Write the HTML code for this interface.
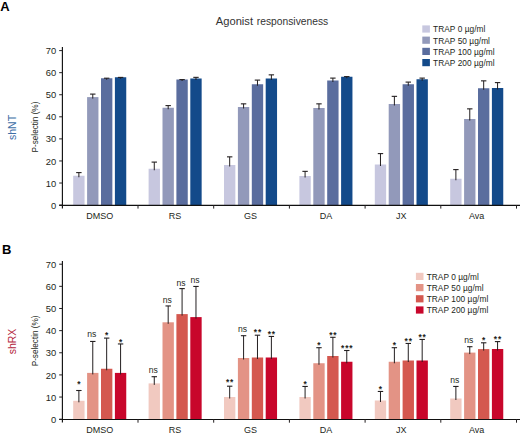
<!DOCTYPE html>
<html><head><meta charset="utf-8"><style>
html,body{margin:0;padding:0;background:#fff;}
svg{display:block;font-family:"Liberation Sans", sans-serif;}
</style></head><body>
<svg width="520" height="435" viewBox="0 0 520 435">
<rect width="520" height="435" fill="#fff"/>
<text y="24.6" font-size="11" fill="#333"><tspan x="215.8" textLength="37.2" lengthAdjust="spacingAndGlyphs">Agonist</tspan><tspan x="256.8" textLength="71.4" lengthAdjust="spacingAndGlyphs">responsiveness</tspan></text>
<rect x="73.20" y="175.75" width="11.35" height="29.35" fill="#c7c7df"/>
<line x1="78.88" y1="172.60" x2="78.88" y2="177.25" stroke="#231f20" stroke-width="1"/>
<line x1="76.17" y1="172.60" x2="81.58" y2="172.60" stroke="#231f20" stroke-width="1.1"/>
<rect x="87.10" y="97.10" width="11.35" height="108.00" fill="#9299ba"/>
<line x1="92.78" y1="94.10" x2="92.78" y2="98.60" stroke="#231f20" stroke-width="1"/>
<line x1="90.08" y1="94.10" x2="95.48" y2="94.10" stroke="#231f20" stroke-width="1.1"/>
<rect x="101.00" y="78.25" width="11.35" height="126.85" fill="#5a6d9e"/>
<line x1="106.67" y1="78.20" x2="106.67" y2="79.75" stroke="#231f20" stroke-width="1"/>
<line x1="103.97" y1="78.20" x2="109.38" y2="78.20" stroke="#231f20" stroke-width="1.1"/>
<rect x="114.90" y="77.25" width="11.35" height="127.85" fill="#134a8a"/>
<line x1="120.58" y1="77.40" x2="120.58" y2="78.75" stroke="#231f20" stroke-width="1"/>
<line x1="117.88" y1="77.40" x2="123.28" y2="77.40" stroke="#231f20" stroke-width="1.1"/>
<rect x="148.60" y="168.75" width="11.35" height="36.35" fill="#c7c7df"/>
<line x1="154.28" y1="162.10" x2="154.28" y2="170.25" stroke="#231f20" stroke-width="1"/>
<line x1="151.58" y1="162.10" x2="156.98" y2="162.10" stroke="#231f20" stroke-width="1.1"/>
<rect x="162.50" y="107.75" width="11.35" height="97.35" fill="#9299ba"/>
<line x1="168.18" y1="105.60" x2="168.18" y2="109.25" stroke="#231f20" stroke-width="1"/>
<line x1="165.48" y1="105.60" x2="170.88" y2="105.60" stroke="#231f20" stroke-width="1.1"/>
<rect x="176.40" y="79.50" width="11.35" height="125.60" fill="#5a6d9e"/>
<line x1="182.08" y1="79.60" x2="182.08" y2="81.00" stroke="#231f20" stroke-width="1"/>
<line x1="179.38" y1="79.60" x2="184.78" y2="79.60" stroke="#231f20" stroke-width="1.1"/>
<rect x="190.30" y="78.50" width="11.35" height="126.60" fill="#134a8a"/>
<line x1="195.98" y1="77.35" x2="195.98" y2="80.00" stroke="#231f20" stroke-width="1"/>
<line x1="193.28" y1="77.35" x2="198.68" y2="77.35" stroke="#231f20" stroke-width="1.1"/>
<rect x="224.00" y="165.00" width="11.35" height="40.10" fill="#c7c7df"/>
<line x1="229.68" y1="156.85" x2="229.68" y2="166.50" stroke="#231f20" stroke-width="1"/>
<line x1="226.98" y1="156.85" x2="232.38" y2="156.85" stroke="#231f20" stroke-width="1.1"/>
<rect x="237.90" y="107.00" width="11.35" height="98.10" fill="#9299ba"/>
<line x1="243.58" y1="103.85" x2="243.58" y2="108.50" stroke="#231f20" stroke-width="1"/>
<line x1="240.88" y1="103.85" x2="246.28" y2="103.85" stroke="#231f20" stroke-width="1.1"/>
<rect x="251.80" y="84.25" width="11.35" height="120.85" fill="#5a6d9e"/>
<line x1="257.48" y1="80.10" x2="257.48" y2="85.75" stroke="#231f20" stroke-width="1"/>
<line x1="254.78" y1="80.10" x2="260.18" y2="80.10" stroke="#231f20" stroke-width="1.1"/>
<rect x="265.70" y="78.50" width="11.35" height="126.60" fill="#134a8a"/>
<line x1="271.38" y1="74.85" x2="271.38" y2="80.00" stroke="#231f20" stroke-width="1"/>
<line x1="268.68" y1="74.85" x2="274.07" y2="74.85" stroke="#231f20" stroke-width="1.1"/>
<rect x="299.40" y="176.00" width="11.35" height="29.10" fill="#c7c7df"/>
<line x1="305.08" y1="171.35" x2="305.08" y2="177.50" stroke="#231f20" stroke-width="1"/>
<line x1="302.38" y1="171.35" x2="307.78" y2="171.35" stroke="#231f20" stroke-width="1.1"/>
<rect x="313.30" y="108.00" width="11.35" height="97.10" fill="#9299ba"/>
<line x1="318.98" y1="103.85" x2="318.98" y2="109.50" stroke="#231f20" stroke-width="1"/>
<line x1="316.28" y1="103.85" x2="321.68" y2="103.85" stroke="#231f20" stroke-width="1.1"/>
<rect x="327.20" y="80.50" width="11.35" height="124.60" fill="#5a6d9e"/>
<line x1="332.88" y1="78.10" x2="332.88" y2="82.00" stroke="#231f20" stroke-width="1"/>
<line x1="330.18" y1="78.10" x2="335.58" y2="78.10" stroke="#231f20" stroke-width="1.1"/>
<rect x="341.10" y="76.75" width="11.35" height="128.35" fill="#134a8a"/>
<line x1="346.78" y1="76.60" x2="346.78" y2="78.25" stroke="#231f20" stroke-width="1"/>
<line x1="344.08" y1="76.60" x2="349.48" y2="76.60" stroke="#231f20" stroke-width="1.1"/>
<rect x="374.80" y="164.50" width="11.35" height="40.60" fill="#c7c7df"/>
<line x1="380.48" y1="153.60" x2="380.48" y2="166.00" stroke="#231f20" stroke-width="1"/>
<line x1="377.78" y1="153.60" x2="383.18" y2="153.60" stroke="#231f20" stroke-width="1.1"/>
<rect x="388.70" y="104.00" width="11.35" height="101.10" fill="#9299ba"/>
<line x1="394.38" y1="96.35" x2="394.38" y2="105.50" stroke="#231f20" stroke-width="1"/>
<line x1="391.68" y1="96.35" x2="397.07" y2="96.35" stroke="#231f20" stroke-width="1.1"/>
<rect x="402.60" y="84.25" width="11.35" height="120.85" fill="#5a6d9e"/>
<line x1="408.28" y1="82.10" x2="408.28" y2="85.75" stroke="#231f20" stroke-width="1"/>
<line x1="405.58" y1="82.10" x2="410.98" y2="82.10" stroke="#231f20" stroke-width="1.1"/>
<rect x="416.50" y="79.25" width="11.35" height="125.85" fill="#134a8a"/>
<line x1="422.18" y1="78.10" x2="422.18" y2="80.75" stroke="#231f20" stroke-width="1"/>
<line x1="419.48" y1="78.10" x2="424.88" y2="78.10" stroke="#231f20" stroke-width="1.1"/>
<rect x="450.20" y="178.75" width="11.35" height="26.35" fill="#c7c7df"/>
<line x1="455.88" y1="169.60" x2="455.88" y2="180.25" stroke="#231f20" stroke-width="1"/>
<line x1="453.18" y1="169.60" x2="458.57" y2="169.60" stroke="#231f20" stroke-width="1.1"/>
<rect x="464.10" y="119.00" width="11.35" height="86.10" fill="#9299ba"/>
<line x1="469.77" y1="108.85" x2="469.77" y2="120.50" stroke="#231f20" stroke-width="1"/>
<line x1="467.07" y1="108.85" x2="472.47" y2="108.85" stroke="#231f20" stroke-width="1.1"/>
<rect x="478.00" y="88.25" width="11.35" height="116.85" fill="#5a6d9e"/>
<line x1="483.68" y1="80.85" x2="483.68" y2="89.75" stroke="#231f20" stroke-width="1"/>
<line x1="480.98" y1="80.85" x2="486.38" y2="80.85" stroke="#231f20" stroke-width="1.1"/>
<rect x="491.90" y="88.00" width="11.35" height="117.10" fill="#134a8a"/>
<line x1="497.57" y1="82.60" x2="497.57" y2="89.50" stroke="#231f20" stroke-width="1"/>
<line x1="494.88" y1="82.60" x2="500.27" y2="82.60" stroke="#231f20" stroke-width="1.1"/>
<line x1="62.4" y1="47" x2="62.4" y2="208.40" stroke="#111" stroke-width="1.15"/>
<line x1="59.2" y1="205.40" x2="520" y2="205.40" stroke="#111" stroke-width="1.15"/>
<line x1="59.2" y1="205.10" x2="62.3" y2="205.10" stroke="#231f20" stroke-width="1"/>
<text x="56.3" y="208.70" text-anchor="end" font-size="9.4" fill="#231f20">0</text>
<line x1="59.2" y1="183.03" x2="62.3" y2="183.03" stroke="#231f20" stroke-width="1"/>
<text x="56.3" y="186.63" text-anchor="end" font-size="9.4" fill="#231f20">10</text>
<line x1="59.2" y1="160.96" x2="62.3" y2="160.96" stroke="#231f20" stroke-width="1"/>
<text x="56.3" y="164.56" text-anchor="end" font-size="9.4" fill="#231f20">20</text>
<line x1="59.2" y1="138.89" x2="62.3" y2="138.89" stroke="#231f20" stroke-width="1"/>
<text x="56.3" y="142.49" text-anchor="end" font-size="9.4" fill="#231f20">30</text>
<line x1="59.2" y1="116.81" x2="62.3" y2="116.81" stroke="#231f20" stroke-width="1"/>
<text x="56.3" y="120.41" text-anchor="end" font-size="9.4" fill="#231f20">40</text>
<line x1="59.2" y1="94.74" x2="62.3" y2="94.74" stroke="#231f20" stroke-width="1"/>
<text x="56.3" y="98.34" text-anchor="end" font-size="9.4" fill="#231f20">50</text>
<line x1="59.2" y1="72.67" x2="62.3" y2="72.67" stroke="#231f20" stroke-width="1"/>
<text x="56.3" y="76.27" text-anchor="end" font-size="9.4" fill="#231f20">60</text>
<line x1="59.2" y1="50.60" x2="62.3" y2="50.60" stroke="#231f20" stroke-width="1"/>
<text x="56.3" y="54.20" text-anchor="end" font-size="9.4" fill="#231f20">70</text>
<line x1="138.00" y1="205.10" x2="138.00" y2="208.60" stroke="#231f20" stroke-width="1"/>
<line x1="213.70" y1="205.10" x2="213.70" y2="208.60" stroke="#231f20" stroke-width="1"/>
<line x1="289.40" y1="205.10" x2="289.40" y2="208.60" stroke="#231f20" stroke-width="1"/>
<line x1="365.10" y1="205.10" x2="365.10" y2="208.60" stroke="#231f20" stroke-width="1"/>
<line x1="440.80" y1="205.10" x2="440.80" y2="208.60" stroke="#231f20" stroke-width="1"/>
<line x1="516.50" y1="205.10" x2="516.50" y2="208.60" stroke="#231f20" stroke-width="1"/>
<text x="99.73" y="218.60" text-anchor="middle" font-size="9" fill="#231f20">DMSO</text>
<text x="175.13" y="218.60" text-anchor="middle" font-size="9" fill="#231f20">RS</text>
<text x="250.53" y="218.60" text-anchor="middle" font-size="9" fill="#231f20">GS</text>
<text x="325.93" y="218.60" text-anchor="middle" font-size="9" fill="#231f20">DA</text>
<text x="401.32" y="218.60" text-anchor="middle" font-size="9" fill="#231f20">JX</text>
<text x="476.72" y="218.60" text-anchor="middle" font-size="9" fill="#231f20">Ava</text>
<text transform="translate(38.4,127.05) rotate(-90)" x="-25.4" font-size="9.6" textLength="50.8" lengthAdjust="spacingAndGlyphs" fill="#231f20">P-selectin (%)</text>
<text transform="translate(15.8,127.50) rotate(-90)" text-anchor="middle" font-size="10.5" fill="#3d6ea6">shNT</text>
<rect x="422.3" y="25.40" width="7.6" height="7.2" fill="#c7c7df"/>
<text x="433.10" y="32.30" font-size="8.3" letter-spacing="0.05" fill="#231f20">TRAP 0 µg/ml</text>
<rect x="422.3" y="36.60" width="7.6" height="7.2" fill="#9299ba"/>
<text x="433.10" y="43.50" font-size="8.3" letter-spacing="0.05" fill="#231f20">TRAP 50 µg/ml</text>
<rect x="422.3" y="47.80" width="7.6" height="7.2" fill="#5a6d9e"/>
<text x="433.10" y="54.70" font-size="8.3" letter-spacing="0.05" fill="#231f20">TRAP 100 µg/ml</text>
<rect x="422.3" y="59.00" width="7.6" height="7.2" fill="#134a8a"/>
<text x="433.10" y="65.90" font-size="8.3" letter-spacing="0.05" fill="#231f20">TRAP 200 µg/ml</text>
<text x="0.2" y="10.9" font-size="13" font-weight="bold" fill="#000">A</text>
<rect x="73.20" y="400.80" width="11.35" height="18.40" fill="#f1c9c0"/>
<line x1="78.88" y1="390.50" x2="78.88" y2="402.30" stroke="#231f20" stroke-width="1"/>
<line x1="76.17" y1="390.50" x2="81.58" y2="390.50" stroke="#231f20" stroke-width="1.1"/>
<text x="79.33" y="387.20" text-anchor="middle" font-size="8.4" font-weight="bold" letter-spacing="0.9" fill="#231f20">*</text>
<rect x="87.10" y="372.90" width="11.35" height="46.30" fill="#e39385"/>
<line x1="92.78" y1="341.45" x2="92.78" y2="374.40" stroke="#231f20" stroke-width="1"/>
<line x1="90.08" y1="341.45" x2="95.48" y2="341.45" stroke="#231f20" stroke-width="1.1"/>
<text x="91.78" y="336.85" text-anchor="middle" font-size="8.6" fill="#231f20">ns</text>
<rect x="101.00" y="368.75" width="11.35" height="50.45" fill="#d4584f"/>
<line x1="106.67" y1="338.10" x2="106.67" y2="370.25" stroke="#231f20" stroke-width="1"/>
<line x1="103.97" y1="338.10" x2="109.38" y2="338.10" stroke="#231f20" stroke-width="1.1"/>
<text x="107.12" y="338.30" text-anchor="middle" font-size="8.4" font-weight="bold" letter-spacing="0.9" fill="#231f20">*</text>
<rect x="114.90" y="372.90" width="11.35" height="46.30" fill="#c8062b"/>
<line x1="120.58" y1="343.95" x2="120.58" y2="374.40" stroke="#231f20" stroke-width="1"/>
<line x1="117.88" y1="343.95" x2="123.28" y2="343.95" stroke="#231f20" stroke-width="1.1"/>
<text x="121.03" y="345.05" text-anchor="middle" font-size="8.4" font-weight="bold" letter-spacing="0.9" fill="#231f20">*</text>
<rect x="148.60" y="383.40" width="11.35" height="35.80" fill="#f1c9c0"/>
<line x1="154.28" y1="376.70" x2="154.28" y2="384.90" stroke="#231f20" stroke-width="1"/>
<line x1="151.58" y1="376.70" x2="156.98" y2="376.70" stroke="#231f20" stroke-width="1.1"/>
<text x="153.28" y="373.30" text-anchor="middle" font-size="8.6" fill="#231f20">ns</text>
<rect x="162.50" y="322.30" width="11.35" height="96.90" fill="#e39385"/>
<line x1="168.18" y1="305.95" x2="168.18" y2="323.80" stroke="#231f20" stroke-width="1"/>
<line x1="165.48" y1="305.95" x2="170.88" y2="305.95" stroke="#231f20" stroke-width="1.1"/>
<text x="167.18" y="302.75" text-anchor="middle" font-size="8.6" fill="#231f20">ns</text>
<rect x="176.40" y="314.10" width="11.35" height="105.10" fill="#d4584f"/>
<line x1="182.08" y1="288.60" x2="182.08" y2="315.60" stroke="#231f20" stroke-width="1"/>
<line x1="179.38" y1="288.60" x2="184.78" y2="288.60" stroke="#231f20" stroke-width="1.1"/>
<text x="181.08" y="285.60" text-anchor="middle" font-size="8.6" fill="#231f20">ns</text>
<rect x="190.30" y="317.10" width="11.35" height="102.10" fill="#c8062b"/>
<line x1="195.98" y1="286.45" x2="195.98" y2="318.60" stroke="#231f20" stroke-width="1"/>
<line x1="193.28" y1="286.45" x2="198.68" y2="286.45" stroke="#231f20" stroke-width="1.1"/>
<text x="194.98" y="282.75" text-anchor="middle" font-size="8.6" fill="#231f20">ns</text>
<rect x="224.00" y="397.00" width="11.35" height="22.20" fill="#f1c9c0"/>
<line x1="229.68" y1="386.20" x2="229.68" y2="398.50" stroke="#231f20" stroke-width="1"/>
<line x1="226.98" y1="386.20" x2="232.38" y2="386.20" stroke="#231f20" stroke-width="1.1"/>
<text x="230.12" y="385.30" text-anchor="middle" font-size="8.4" font-weight="bold" letter-spacing="0.9" fill="#231f20">**</text>
<rect x="237.90" y="358.00" width="11.35" height="61.20" fill="#e39385"/>
<line x1="243.58" y1="335.70" x2="243.58" y2="359.50" stroke="#231f20" stroke-width="1"/>
<line x1="240.88" y1="335.70" x2="246.28" y2="335.70" stroke="#231f20" stroke-width="1.1"/>
<text x="242.58" y="331.90" text-anchor="middle" font-size="8.6" fill="#231f20">ns</text>
<rect x="251.80" y="357.50" width="11.35" height="61.70" fill="#d4584f"/>
<line x1="257.48" y1="335.20" x2="257.48" y2="359.00" stroke="#231f20" stroke-width="1"/>
<line x1="254.78" y1="335.20" x2="260.18" y2="335.20" stroke="#231f20" stroke-width="1.1"/>
<text x="257.93" y="334.90" text-anchor="middle" font-size="8.4" font-weight="bold" letter-spacing="0.9" fill="#231f20">**</text>
<rect x="265.70" y="357.50" width="11.35" height="61.70" fill="#c8062b"/>
<line x1="271.38" y1="336.45" x2="271.38" y2="359.00" stroke="#231f20" stroke-width="1"/>
<line x1="268.68" y1="336.45" x2="274.07" y2="336.45" stroke="#231f20" stroke-width="1.1"/>
<text x="271.82" y="336.50" text-anchor="middle" font-size="8.4" font-weight="bold" letter-spacing="0.9" fill="#231f20">**</text>
<rect x="299.40" y="397.00" width="11.35" height="22.20" fill="#f1c9c0"/>
<line x1="305.08" y1="386.45" x2="305.08" y2="398.50" stroke="#231f20" stroke-width="1"/>
<line x1="302.38" y1="386.45" x2="307.78" y2="386.45" stroke="#231f20" stroke-width="1.1"/>
<text x="305.53" y="386.80" text-anchor="middle" font-size="8.4" font-weight="bold" letter-spacing="0.9" fill="#231f20">*</text>
<rect x="313.30" y="363.25" width="11.35" height="55.95" fill="#e39385"/>
<line x1="318.98" y1="347.70" x2="318.98" y2="364.75" stroke="#231f20" stroke-width="1"/>
<line x1="316.28" y1="347.70" x2="321.68" y2="347.70" stroke="#231f20" stroke-width="1.1"/>
<text x="319.43" y="348.05" text-anchor="middle" font-size="8.4" font-weight="bold" letter-spacing="0.9" fill="#231f20">*</text>
<rect x="327.20" y="356.00" width="11.35" height="63.20" fill="#d4584f"/>
<line x1="332.88" y1="337.30" x2="332.88" y2="357.50" stroke="#231f20" stroke-width="1"/>
<line x1="330.18" y1="337.30" x2="335.58" y2="337.30" stroke="#231f20" stroke-width="1.1"/>
<text x="333.33" y="337.60" text-anchor="middle" font-size="8.4" font-weight="bold" letter-spacing="0.9" fill="#231f20">**</text>
<rect x="341.10" y="361.75" width="11.35" height="57.45" fill="#c8062b"/>
<line x1="346.78" y1="350.50" x2="346.78" y2="363.25" stroke="#231f20" stroke-width="1"/>
<line x1="344.08" y1="350.50" x2="349.48" y2="350.50" stroke="#231f20" stroke-width="1.1"/>
<text x="347.23" y="351.30" text-anchor="middle" font-size="8.4" font-weight="bold" letter-spacing="0.9" fill="#231f20">***</text>
<rect x="374.80" y="400.50" width="11.35" height="18.70" fill="#f1c9c0"/>
<line x1="380.48" y1="391.45" x2="380.48" y2="402.00" stroke="#231f20" stroke-width="1"/>
<line x1="377.78" y1="391.45" x2="383.18" y2="391.45" stroke="#231f20" stroke-width="1.1"/>
<text x="380.93" y="392.05" text-anchor="middle" font-size="8.4" font-weight="bold" letter-spacing="0.9" fill="#231f20">*</text>
<rect x="388.70" y="361.75" width="11.35" height="57.45" fill="#e39385"/>
<line x1="394.38" y1="347.70" x2="394.38" y2="363.25" stroke="#231f20" stroke-width="1"/>
<line x1="391.68" y1="347.70" x2="397.07" y2="347.70" stroke="#231f20" stroke-width="1.1"/>
<text x="394.82" y="348.05" text-anchor="middle" font-size="8.4" font-weight="bold" letter-spacing="0.9" fill="#231f20">*</text>
<rect x="402.60" y="360.50" width="11.35" height="58.70" fill="#d4584f"/>
<line x1="408.28" y1="343.45" x2="408.28" y2="362.00" stroke="#231f20" stroke-width="1"/>
<line x1="405.58" y1="343.45" x2="410.98" y2="343.45" stroke="#231f20" stroke-width="1.1"/>
<text x="408.73" y="344.05" text-anchor="middle" font-size="8.4" font-weight="bold" letter-spacing="0.9" fill="#231f20">**</text>
<rect x="416.50" y="360.50" width="11.35" height="58.70" fill="#c8062b"/>
<line x1="422.18" y1="339.45" x2="422.18" y2="362.00" stroke="#231f20" stroke-width="1"/>
<line x1="419.48" y1="339.45" x2="424.88" y2="339.45" stroke="#231f20" stroke-width="1.1"/>
<text x="422.62" y="340.20" text-anchor="middle" font-size="8.4" font-weight="bold" letter-spacing="0.9" fill="#231f20">**</text>
<rect x="450.20" y="398.50" width="11.35" height="20.70" fill="#f1c9c0"/>
<line x1="455.88" y1="386.45" x2="455.88" y2="400.00" stroke="#231f20" stroke-width="1"/>
<line x1="453.18" y1="386.45" x2="458.57" y2="386.45" stroke="#231f20" stroke-width="1.1"/>
<text x="454.88" y="382.70" text-anchor="middle" font-size="8.6" fill="#231f20">ns</text>
<rect x="464.10" y="352.60" width="11.35" height="66.60" fill="#e39385"/>
<line x1="469.77" y1="346.70" x2="469.77" y2="354.10" stroke="#231f20" stroke-width="1"/>
<line x1="467.07" y1="346.70" x2="472.47" y2="346.70" stroke="#231f20" stroke-width="1.1"/>
<text x="468.77" y="342.50" text-anchor="middle" font-size="8.6" fill="#231f20">ns</text>
<rect x="478.00" y="349.10" width="11.35" height="70.10" fill="#d4584f"/>
<line x1="483.68" y1="342.80" x2="483.68" y2="350.60" stroke="#231f20" stroke-width="1"/>
<line x1="480.98" y1="342.80" x2="486.38" y2="342.80" stroke="#231f20" stroke-width="1.1"/>
<text x="484.12" y="342.90" text-anchor="middle" font-size="8.4" font-weight="bold" letter-spacing="0.9" fill="#231f20">*</text>
<rect x="491.90" y="349.00" width="11.35" height="70.20" fill="#c8062b"/>
<line x1="497.57" y1="341.60" x2="497.57" y2="350.50" stroke="#231f20" stroke-width="1"/>
<line x1="494.88" y1="341.60" x2="500.27" y2="341.60" stroke="#231f20" stroke-width="1.1"/>
<text x="498.02" y="341.55" text-anchor="middle" font-size="8.4" font-weight="bold" letter-spacing="0.9" fill="#231f20">**</text>
<line x1="62.4" y1="261" x2="62.4" y2="422.50" stroke="#111" stroke-width="1.15"/>
<line x1="59.2" y1="419.50" x2="520" y2="419.50" stroke="#111" stroke-width="1.15"/>
<line x1="59.2" y1="419.20" x2="62.3" y2="419.20" stroke="#231f20" stroke-width="1"/>
<text x="56.3" y="422.80" text-anchor="end" font-size="9.4" fill="#231f20">0</text>
<line x1="59.2" y1="397.06" x2="62.3" y2="397.06" stroke="#231f20" stroke-width="1"/>
<text x="56.3" y="400.66" text-anchor="end" font-size="9.4" fill="#231f20">10</text>
<line x1="59.2" y1="374.91" x2="62.3" y2="374.91" stroke="#231f20" stroke-width="1"/>
<text x="56.3" y="378.51" text-anchor="end" font-size="9.4" fill="#231f20">20</text>
<line x1="59.2" y1="352.77" x2="62.3" y2="352.77" stroke="#231f20" stroke-width="1"/>
<text x="56.3" y="356.37" text-anchor="end" font-size="9.4" fill="#231f20">30</text>
<line x1="59.2" y1="330.63" x2="62.3" y2="330.63" stroke="#231f20" stroke-width="1"/>
<text x="56.3" y="334.23" text-anchor="end" font-size="9.4" fill="#231f20">40</text>
<line x1="59.2" y1="308.49" x2="62.3" y2="308.49" stroke="#231f20" stroke-width="1"/>
<text x="56.3" y="312.09" text-anchor="end" font-size="9.4" fill="#231f20">50</text>
<line x1="59.2" y1="286.34" x2="62.3" y2="286.34" stroke="#231f20" stroke-width="1"/>
<text x="56.3" y="289.94" text-anchor="end" font-size="9.4" fill="#231f20">60</text>
<line x1="59.2" y1="264.20" x2="62.3" y2="264.20" stroke="#231f20" stroke-width="1"/>
<text x="56.3" y="267.80" text-anchor="end" font-size="9.4" fill="#231f20">70</text>
<line x1="138.00" y1="419.20" x2="138.00" y2="422.70" stroke="#231f20" stroke-width="1"/>
<line x1="213.70" y1="419.20" x2="213.70" y2="422.70" stroke="#231f20" stroke-width="1"/>
<line x1="289.40" y1="419.20" x2="289.40" y2="422.70" stroke="#231f20" stroke-width="1"/>
<line x1="365.10" y1="419.20" x2="365.10" y2="422.70" stroke="#231f20" stroke-width="1"/>
<line x1="440.80" y1="419.20" x2="440.80" y2="422.70" stroke="#231f20" stroke-width="1"/>
<line x1="516.50" y1="419.20" x2="516.50" y2="422.70" stroke="#231f20" stroke-width="1"/>
<text x="99.73" y="432.70" text-anchor="middle" font-size="9" fill="#231f20">DMSO</text>
<text x="175.13" y="432.70" text-anchor="middle" font-size="9" fill="#231f20">RS</text>
<text x="250.53" y="432.70" text-anchor="middle" font-size="9" fill="#231f20">GS</text>
<text x="325.93" y="432.70" text-anchor="middle" font-size="9" fill="#231f20">DA</text>
<text x="401.32" y="432.70" text-anchor="middle" font-size="9" fill="#231f20">JX</text>
<text x="476.72" y="432.70" text-anchor="middle" font-size="9" fill="#231f20">Ava</text>
<text transform="translate(38.4,340.90) rotate(-90)" x="-25.4" font-size="9.6" textLength="50.8" lengthAdjust="spacingAndGlyphs" fill="#231f20">P-selectin (%)</text>
<text transform="translate(15.8,341.50) rotate(-90)" text-anchor="middle" font-size="10.5" fill="#b3263e">shRX</text>
<rect x="415.9" y="272.80" width="7.6" height="7.2" fill="#f1c9c0"/>
<text x="426.70" y="279.70" font-size="8.3" letter-spacing="0.05" fill="#231f20">TRAP 0 µg/ml</text>
<rect x="415.9" y="284.00" width="7.6" height="7.2" fill="#e39385"/>
<text x="426.70" y="290.90" font-size="8.3" letter-spacing="0.05" fill="#231f20">TRAP 50 µg/ml</text>
<rect x="415.9" y="295.20" width="7.6" height="7.2" fill="#d4584f"/>
<text x="426.70" y="302.10" font-size="8.3" letter-spacing="0.05" fill="#231f20">TRAP 100 µg/ml</text>
<rect x="415.9" y="306.40" width="7.6" height="7.2" fill="#c8062b"/>
<text x="426.70" y="313.30" font-size="8.3" letter-spacing="0.05" fill="#231f20">TRAP 200 µg/ml</text>
<text x="2.0" y="254.4" font-size="13" font-weight="bold" fill="#000">B</text>
</svg>
</body></html>
